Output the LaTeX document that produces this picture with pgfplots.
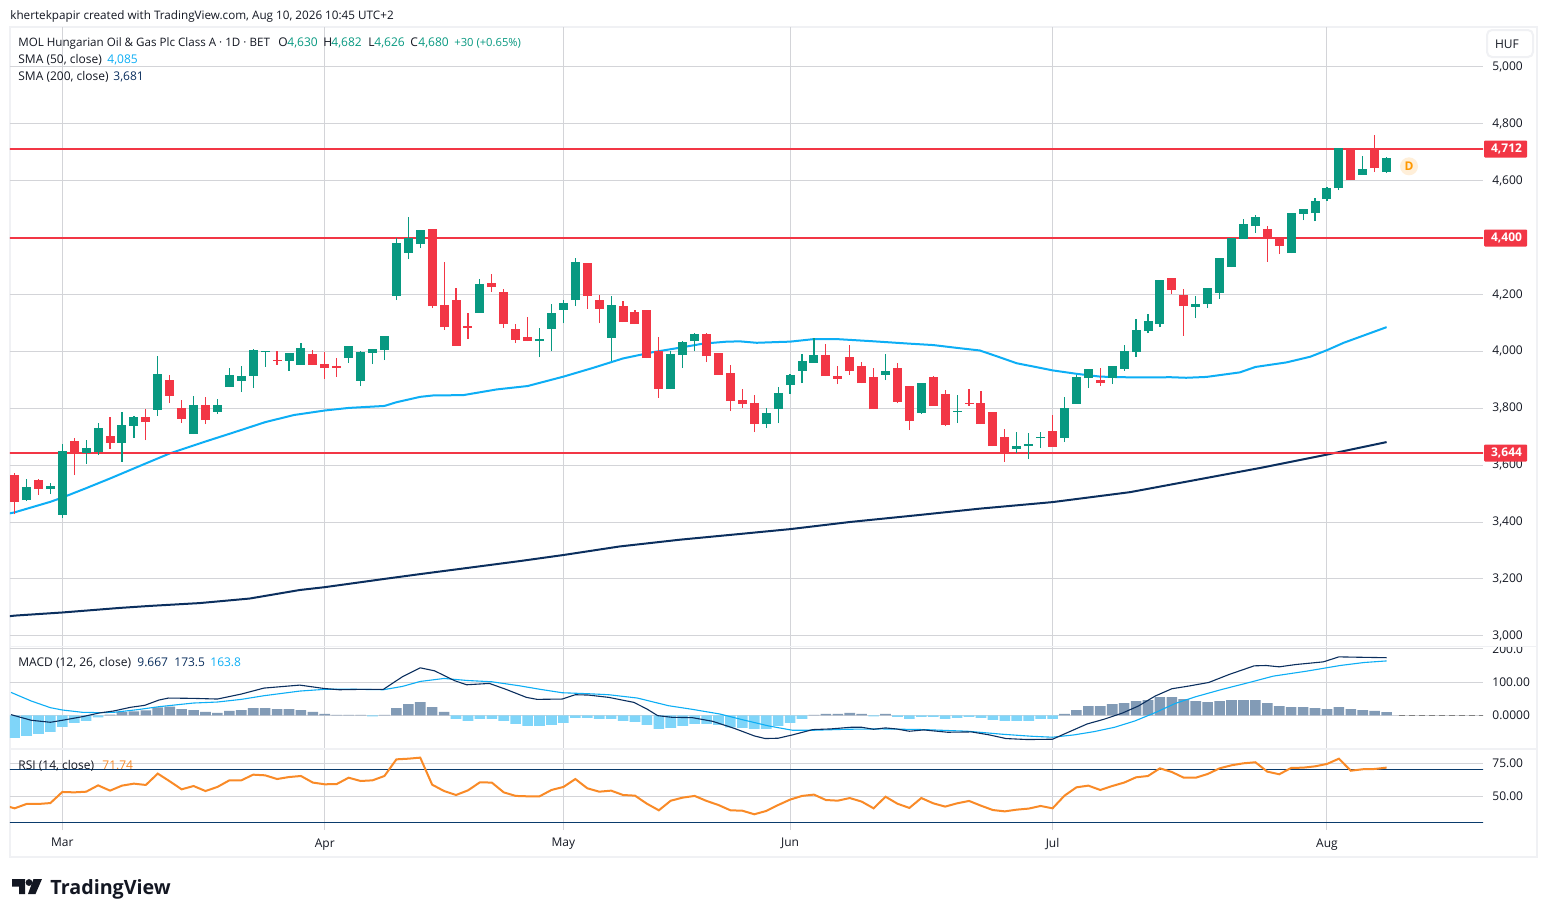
\documentclass[border=0pt]{standalone}
\usepackage{fontspec}
\setmainfont{Open Sans}
\usepackage{pgfplots}
\usepackage{pgfplotstable}
\pgfplotsset{compat=1.18}

\definecolor{up}{HTML}{089981}
\definecolor{down}{HTML}{F23645}
\definecolor{smafast}{HTML}{0DAEF5}
\definecolor{smaslow}{HTML}{0B2F5E}
\definecolor{gridc}{HTML}{D3D4D8}
\definecolor{framec}{HTML}{F0F1F4}
\definecolor{histpos}{HTML}{829BB6}
\definecolor{histneg}{HTML}{7FD5F9}
\definecolor{rsic}{HTML}{F98A27}
\definecolor{bandc}{HTML}{0A3B6C}
\definecolor{inkc}{HTML}{131722}
\definecolor{divc}{HTML}{FF9800}

% o h l c, one table per candle colour
\pgfplotstableread{
i o h l c
1 3477 3551 3474 3523
3 3516 3537 3498 3526
4 3425 3674 3415 3650
6 3642 3688 3604 3660
7 3646 3748 3636 3730
9 3678 3787 3611 3741
10 3737 3773 3695 3769
12 3794 3983 3773 3920
15 3709 3843 3709 3811
17 3787 3832 3780 3811
18 3874 3941 3874 3917
19 3896 3948 3857 3913
20 3913 4008 3871 4005
21 3997 4001 3945 4001
23 3966 3994 3931 3994
24 3952 4029 3952 4012
28 3976 4019 3959 4019
29 3896 4001 3878 3997
30 3994 4008 3955 4008
31 4005 4054 3969 4054
32 4194 4398 4180 4381
33 4346 4472 4324 4398
34 4377 4426 4363 4426
39 4135 4254 4135 4237
44 4036 4082 3980 4043
45 4078 4166 4001 4135
46 4145 4180 4099 4170
47 4180 4328 4159 4314
50 4047 4194 3966 4163
55 3867 4001 3867 3990
56 3987 4036 3941 4033
57 4036 4064 4001 4061
63 3744 3801 3730 3783
64 3797 3874 3748 3853
65 3881 3920 3850 3917
66 3931 3990 3888 3966
67 3959 4047 3959 3987
73 3917 3990 3899 3931
76 3783 3888 3780 3888
79 3787 3846 3748 3790
84 3656 3716 3642 3667
85 3667 3713 3621 3674
86 3695 3716 3660 3699
88 3695 3839 3681 3801
89 3815 3917 3815 3910
90 3906 3938 3871 3938
92 3906 3948 3885 3948
93 3938 4022 3931 4001
94 3997 4113 3980 4075
95 4071 4131 4064 4106
96 4096 4250 4085 4250
99 4156 4194 4117 4166
100 4166 4222 4152 4222
101 4205 4328 4184 4328
102 4296 4398 4296 4398
103 4395 4465 4395 4447
104 4440 4479 4416 4472
107 4345 4486 4345 4486
108 4482 4500 4461 4500
109 4486 4539 4458 4528
110 4535 4577 4528 4574
111 4574 4714 4567 4714
113 4620 4686 4620 4641
115 4630 4682 4626 4680
}\upcandles

\pgfplotstableread{
i o h l c
0 3565 3571 3427 3471
2 3548 3551 3495 3516
5 3685 3695 3565 3639
8 3702 3769 3657 3678
11 3769 3797 3688 3751
13 3899 3917 3818 3843
14 3801 3829 3748 3762
16 3811 3839 3744 3758
22 3969 4001 3952 3966
25 3990 4005 3952 3952
26 3955 3997 3903 3941
27 3948 3976 3910 3941
35 4430 4430 4152 4159
36 4163 4314 4075 4085
37 4180 4222 4019 4019
38 4089 4135 4043 4082
40 4240 4272 4208 4226
41 4208 4219 4082 4096
42 4078 4096 4029 4040
43 4050 4121 4036 4036
48 4310 4310 4149 4194
49 4180 4198 4099 4149
51 4159 4177 4103 4103
52 4138 4145 4096 4096
53 4145 4145 3976 3976
54 4001 4050 3836 3867
58 4061 4064 3962 3983
59 3994 3994 3917 3917
60 3924 3952 3790 3825
61 3829 3867 3801 3815
62 3818 3846 3716 3744
68 3987 4026 3913 3913
69 3913 3948 3885 3903
70 3980 4022 3917 3931
71 3948 3962 3888 3888
72 3910 3941 3797 3797
74 3941 3959 3818 3822
75 3878 3878 3723 3755
77 3910 3913 3808 3808
78 3850 3864 3737 3741
80 3818 3867 3808 3815
81 3818 3860 3744 3744
82 3787 3787 3667 3667
83 3699 3727 3611 3642
87 3720 3776 3664 3664
91 3899 3941 3878 3888
97 4257 4257 4201 4215
98 4198 4219 4054 4159
105 4430 4440 4314 4398
106 4398 4398 4342 4370
112 4711 4711 4602 4602
114 4711 4760 4630 4644
}\downcandles

\pgfplotstableread{
i v
-1 3425
0 3434
3 3471
4 3486
6 3519
8 3553
11 3606
13 3641
16 3683
18.3 3714
21 3751
23.4 3776
26 3792
28 3801
31 3808
32 3821
34 3840
35.1 3845
37.6 3846
40.4 3866
43 3878
46 3911
48.5 3942
51 3975
53.5 3997
55.8 4013
57.7 4027
59.7 4034
60.8 4035
62.2 4030
64.2 4033
65 4034
67 4043
68.9 4043
71.7 4036
75 4027
77 4022
79 4012
80.9 4003
82.3 3983
84 3958
85.7 3944
87 3933
89 3921
91 3911
94 3908
96.9 3909
98.2 3907
99.9 3910
102.7 3926
104 3945
106.6 3961
108.6 3981
110 4004
111.4 4030
115 4085
}\smafifty

\pgfplotstableread{
i v
-1 3066
0 3071
4 3082
8.8 3098
11.3 3105
15.5 3115
19.7 3131
23.9 3161
26 3171
31 3200
34 3217
37.3 3235
42.4 3263
46 3284
50.7 3314
55.8 3338
60.8 3358
65 3375
70 3400
75.9 3425
80.9 3447
87 3470
93.5 3505
99.4 3551
104.4 3590
110 3637
115 3681
}\smatwohundred

\pgfplotstableread{
i v
0 -68
1 -62
2 -56
3 -50
4 -35
5 -23
6 -17
7 -6
8 2
9 10
10 12
11 15
12 24
13 26
14 19
15 16
16 10
17 7
18 13
19 16
20 22
21 22
22 19
23 19
24 16
25 10
26 4
27 1
28 1
29 1
30 -3
31 1
32 22
33 34
34 40
35 25
36 10
37 -11
38 -17
39 -11
40 -11
41 -17
42 -26
43 -32
44 -32
45 -29
46 -23
47 -8
48 -8
49 -11
50 -11
51 -17
52 -20
53 -29
54 -41
55 -38
56 -32
57 -26
58 -26
59 -29
60 -36
61 -38
62 -41
63 -41
64 -32
65 -23
66 -11
67 1
68 4
69 4
70 7
71 4
72 -3
73 4
74 -5
75 -11
76 -5
77 -5
78 -11
79 -8
80 -5
81 -8
82 -14
83 -17
84 -17
85 -17
86 -11
87 -11
88 4
89 16
90 28
91 28
92 34
93 37
94 43
95 46
96 55
97 55
98 49
99 43
100 40
101 43
102 46
103 46
104 46
105 37
106 28
107 25
108 25
109 22
110 19
111 25
112 19
113 16
114 13
115 9.667
}\histdata

\pgfplotstableread{
i v
-0.3 2
1.4 -15
3 -21
4 -15
5.7 -4
7.1 7
8.3 13
9.7 24
10.9 30
12.1 46
12.9 52
15 51
17 49
19 64
20.9 82
23.9 91
25.9 81
27.2 77
28.8 78
30.9 78
32.5 116
34 143
35.2 134
36.9 104
37.9 92
39.8 96
41.2 78
42.9 54
43.8 48
45.9 49
47 62
48.1 61
49.8 54
51.9 39
53 19
53.9 -1
55.1 -6
56.8 -7
58.5 -18
60.3 -39
62 -62
62.9 -70
64 -69
65.2 -59
66.9 -43
68.4 -41
70.1 -36
71 -36
72 -42
73 -38
73.9 -41
75 -48
76.2 -44
78.2 -51
80.2 -50
81.7 -59
83.1 -70
84.9 -73
87 -72
88 -56
89.9 -26
91.3 -12
92.8 6
94.2 28
95.6 58
97 80
98.4 88
100.1 99
101.8 123
103.9 149
104.9 150
106 146
107.4 153
109.7 161
111 176
112.5 175
115 173.5
}\macdline

\pgfplotstableread{
i v
-0.3 69
1.4 43
3 23
4 16
5.7 9
7.1 8
8.3 9
10.3 17
12.1 26
15 37
17 40
19 48
20.9 59
23.9 73
25.9 78
27.6 79
30.9 77
32.5 87
34 102
36 111
37.9 105
40 101
42.3 89
44.1 78
45.9 68
48.1 65
49.8 62
52.2 52
54.8 29
56.8 18
59.1 4
61.1 -14
63.2 -32
65.2 -45
66.9 -45
69.8 -42
72.7 -41
76.2 -43
79.9 -48
82.8 -57
85.2 -63
87 -66
88.8 -59
90.5 -49
92.2 -36
93.9 -17
95.6 8
97.3 36
99 56
101.2 78
103.5 99
105.5 118
108.3 133
111.1 150
113.1 159
115 163.8
}\signalline

\pgfplotstableread{
i v
-1 43.5
0 40.9
1 44.2
2 44.2
3 44.9
4 53.3
5 53
6 53.5
7 58.3
8 54.3
9 58.1
10 59.6
11 58.6
12 67.2
13 61.4
14 55.3
15 57.8
16 54
17 57.1
18 62.1
19 62.1
20 66.4
21 65.9
22 63.1
23 64.6
24 65.4
25 60.4
26 59.1
27 59.3
28 64.1
29 61.6
30 62.1
31 65.4
32 78
33 78.5
34 79.3
35 58.8
36 54
37 51
38 54.5
39 60.6
40 60.4
41 53
42 50.3
43 50
44 50
45 54.8
46 57.1
47 63.1
48 56.1
49 53.5
50 54.3
51 51
52 50.5
53 44.4
54 39.4
55 46.7
56 49
57 50.3
58 46.5
59 43.4
60 39.4
61 39.1
62 36.4
63 38.9
64 43.4
65 47.5
66 50.3
67 51.3
68 47.2
69 46.7
70 48.7
71 46
72 40.9
73 49.7
74 44.4
75 41.2
76 48.7
77 44.7
78 42.2
79 44.7
80 46.5
81 42.9
82 39.6
83 38.6
84 39.9
85 40.7
86 42.7
87 40.9
88 50.5
89 56.8
90 58.1
91 54.8
92 57.8
93 60.4
94 64.4
95 65.4
96 71.2
97 68.4
98 64.1
99 64.1
100 66.9
101 71.2
102 73.5
103 75
104 75.8
105 68.7
106 66.7
107 71.5
108 71.7
109 72.7
110 74.5
111 78.5
112 69.4
113 70.5
114 70.7
115 71.74
}\rsidata

\newcommand{\smallf}{\fontsize{6}{7}\selectfont}

% wick and body of one colour of candle, as error bars
\newcommand{\candles}[2]{%
  \addplot[draw=none, error bars/.cd, y dir=plus, y explicit, error mark=none,
    error bar style={draw=#2, line width=0.6pt}]
    table[x=i, y=l, y error plus expr=\thisrow{h}-\thisrow{l}] {#1};
  \addplot[draw=none, error bars/.cd, y dir=plus, y explicit, error mark=none,
    error bar style={draw=#2, line width=4.5pt}]
    table[x=i, y expr={min(\thisrow{o},\thisrow{c})},
      y error plus expr={abs(\thisrow{c}-\thisrow{o})}] {#1};
}

\pgfplotsset{
  pane/.style={
    scale only axis, width=736.5pt,
    xmin=-0.386, xmax=123.08,
    xtick={4,26,46,65,87,110},
    xticklabels={},
    grid=major,
    grid style={gridc, line width=0.5pt},
    axis line style={draw=none},
    major tick length=0pt,
    tick style={draw=none},
    yticklabel pos=right,
    tick label style={font=\smallf, text=inkc},
    yticklabel style={anchor=west, inner sep=0pt, xshift=4.5pt},
    /pgf/number format/assume math mode=true,
  },
}

\begin{document}
\begin{tikzpicture}[x=0.5pt, y=-0.5pt]
\path[use as bounding box, fill=white] (0,0) rectangle (1547,917);
\draw[framec, line width=1pt] (10,27) rectangle (1537,856.5);

\begin{axis}[pane, at={(5pt,-13.5pt)}, anchor=north west, height=309.75pt,
  ymin=2962.4, ymax=5140,
  ytick={3000,3200,3400,3600,3800,4000,4200,4400,4600,4800,5000},
  /pgf/number format/1000 sep={,}]
  \addplot[smaslow, line width=1pt] table[x=i, y=v] {\smatwohundred};
  \addplot[smafast, line width=1pt] table[x=i, y=v] {\smafifty};
  \addplot[down, line width=1pt] coordinates {(-1,4712) (124,4712)};
  \addplot[down, line width=1pt] coordinates {(-1,4400) (124,4400)};
  \addplot[down, line width=1pt] coordinates {(-1,3644) (124,3644)};
  \candles{\upcandles}{up}
  \candles{\downcandles}{down}
\end{axis}

\begin{axis}[pane, at={(5pt,-323.25pt)}, anchor=north west, height=51.25pt,
  ymin=-101.5, ymax=207.2,
  ytick={0,100,200}, yticklabels={0.0000,100.00,200.0}]
  \addplot[ybar, bar width=5.3pt, bar shift=0pt, draw=none, fill=histpos,
    restrict y to domain=0:1000] table[x=i, y=v] {\histdata};
  \addplot[ybar, bar width=5.3pt, bar shift=0pt, draw=none, fill=histneg,
    restrict y to domain=-1000:0] table[x=i, y=v] {\histdata};
  \addplot[gray, line width=0.5pt, dash pattern=on 3pt off 2pt] coordinates {(116,0) (124,0)};
  \addplot[smafast, line width=0.55pt] table[x=i, y=v] {\signalline};
  \addplot[smaslow, line width=0.55pt] table[x=i, y=v] {\macdline};
\end{axis}

\begin{axis}[pane, at={(5pt,-374.5pt)}, anchor=north west, height=40.5pt,
  ymin=24.47, ymax=85.83,
  ytick={50,75}, yticklabels={50.00,75.00},
  xticklabels={Mar,Apr,May,Jun,Jul,Aug},
  xticklabel style={inner sep=0pt, yshift=-4pt}]
  \addplot[bandc, line width=0.5pt] coordinates {(-1,70) (124,70)};
  \addplot[bandc, line width=0.5pt] coordinates {(-1,30) (124,30)};
  \addplot[rsic, line width=1pt] table[x=i, y=v] {\rsidata};
\end{axis}

% pane separators, top of 200.0 is cut by the pane above
\fill[white] (1484,641) rectangle (1536,646.5);
\draw[framec, line width=0.8pt] (10,646.5) -- (1537,646.5);
\draw[framec, line width=0.8pt] (10,749) -- (1537,749);

\tikzset{lbl/.style={anchor=base west, inner sep=0pt, font=\smallf, text=inkc}}
\node[lbl, font=\fontsize{5.85}{7}\selectfont] at (10,19) {khertekpapir created with TradingView.com, Aug 10, 2026 10:45 UTC+2};
\node[lbl, font=\fontsize{5.8}{7}\selectfont] at (18,46) {MOL Hungarian Oil \& Gas Plc Class A · 1D · BET};
\node[lbl] at (278,46) {O};
\node[lbl, text=up] at (287,46) {4,630};
\node[lbl] at (323,46) {H};
\node[lbl, text=up] at (331,46) {4,682};
\node[lbl] at (368,46) {L};
\node[lbl, text=up] at (374,46) {4,626};
\node[lbl] at (410,46) {C};
\node[lbl, text=up] at (418,46) {4,680};
\node[lbl, text=up, font=\fontsize{5.6}{7}\selectfont] at (454,46) {+30 (+0.65\%)};
\node[lbl] at (18,63) {SMA (50, close)};
\node[lbl, text=smafast] at (107,63) {4,085};
\node[lbl] at (18,80) {SMA (200, close)};
\node[lbl, text=smaslow] at (113,80) {3,681};
\node[lbl] at (18,666) {MACD (12, 26, close)};
\node[lbl, text=smaslow] at (137,666) {9.667};
\node[lbl, text=smaslow] at (174,666) {173.5};
\node[lbl, text=smafast] at (210,666) {163.8};
\node[lbl] at (18,769) {RSI (14, close)};
\node[lbl, text=rsic] at (102,769) {71.74};

% price tags at the right
\foreach \yy/\tx in {149/{4,712}, 238/{4,400}, 453/{3,644}} {
  \fill[down, rounded corners=0.5pt] (1484,\yy-8.5) rectangle (1527,\yy+8.5);
  \node[anchor=center, inner sep=0pt, font=\smallf\bfseries, text=white] at (1506.5,\yy) {\tx};
}

% currency box
\draw[framec, fill=white, line width=1pt, rounded corners=2.5pt] (1487,30) rectangle (1533,57);
\node[anchor=center, inner sep=0pt, font=\smallf, text=inkc] at (1507,44) {HUF};

% dividend marker
\fill[divc!15] (1409,166.3) circle (9);
\node[anchor=center, inner sep=0pt, font=\fontsize{6}{7}\selectfont\bfseries, text=divc] at (1409,166.5) {D};

% logo
\fill[inkc] (12,879) -- (25,879) -- (25,894) -- (19,894) -- (19,886.5) -- (12,886.5) -- cycle;
\fill[inkc] (29,882.5) circle (3.4);
\fill[inkc] (33.5,879) -- (42,879) -- (35.5,894) -- (28,894) -- cycle;
\node[anchor=base west, inner sep=0pt, font=\fontsize{9.85}{12}\selectfont\bfseries, text=inkc] at (50,894) {TradingView};
\end{tikzpicture}
\end{document}
